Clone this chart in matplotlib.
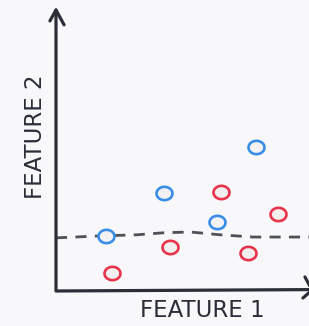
import matplotlib
matplotlib.use("Agg")
import matplotlib.pyplot as plt
from matplotlib.path import Path
import numpy as np

# data (arbitrary feature units, 0..10 on both axes)
blue_x = [7.91, 4.27, 6.36, 1.98]
blue_y = [5.12, 3.49, 2.46, 1.96]
red_x = [6.52, 8.77, 4.51, 7.59, 2.21]
red_y = [3.52, 2.74, 1.57, 1.35, 0.64]
# hand drawn dashed boundary
line_x = [0, 1.74, 3.20, 4.23, 5.30, 6.48, 7.79, 10]
line_y = [1.89, 1.96, 2.00, 2.07, 2.10, 2.00, 1.92, 1.92]

bg = '#f8f8fa'
ink = '#2b2e38'

# slightly squashed circle marker
t = np.linspace(0, 2 * np.pi, 60)
ell = Path(np.column_stack([1.2 * np.cos(t), np.sin(t)]))

fig = plt.figure(figsize=(3.09, 3.26), dpi=100, facecolor=bg)
ax = fig.add_axes([0.1812, 0.1074, 0.8188, 0.8620])
ax.set_facecolor(bg)
ax.set_xlim(0, 10)
ax.set_ylim(0, 10)
ax.axis('off')

ax.plot(line_x, line_y, color='#4e5158', lw=2.0, dashes=(4, 3), zorder=1)

ax.plot(blue_x, blue_y, ls='none', marker=ell, ms=11.5, mfc='#f3f1f2',
        mec='#3a8de6', mew=1.9, zorder=3)
ax.plot(red_x, red_y, ls='none', marker=ell, ms=11.5, mfc='#f3efef',
        mec='#e8344b', mew=1.9, zorder=3)

# axes drawn by hand with open arrow heads
tr = ax.transAxes
kw = dict(color=ink, lw=2.3, transform=tr, clip_on=False,
          solid_capstyle='round', solid_joinstyle='round')
ax.plot([0, 0, 1.02], [1.0, 0, 0.005], **kw)
ax.plot([-0.024, 0, 0.032], [0.961, 1.0, 0.947], **kw)
ax.plot([0.984, 1.012, 0.976], [0.05, 0.003, -0.025], **kw)

fig.text(0.654, 0.049, 'FEATURE 1', ha='center', va='center',
         fontsize=16.5, color=ink)
fig.text(0.1165, 0.58, 'FEATURE 2', ha='center', va='center',
         rotation=90, fontsize=16.5, color=ink)

fig.savefig('out.png', dpi=100, facecolor=bg)
